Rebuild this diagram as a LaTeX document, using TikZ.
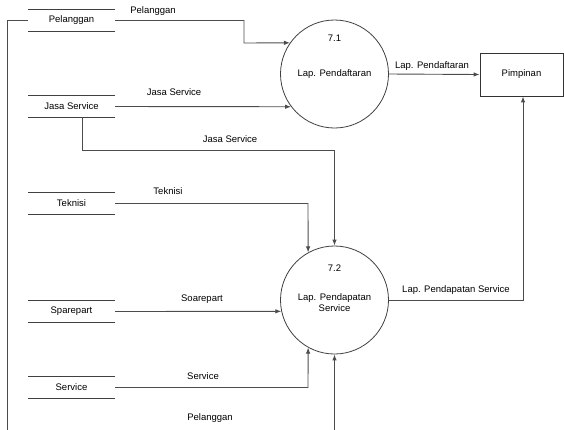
\documentclass[tikz,border=0pt]{standalone}
\usepackage{fontspec}
\setmainfont{Liberation Sans}
\usetikzlibrary{arrows.meta}
\begin{document}
\begin{tikzpicture}[x=1pt,y=-1pt,
  flow/.style={draw=black!70,line width=0.9pt,-{Latex[length=6pt,width=4.5pt]}},
  proc/.style={circle,draw=black!75,line width=0.8pt,minimum size=108pt,inner sep=0pt},
  lbl/.style={font=\fontsize{9.5}{11}\selectfont,inner sep=1pt},
  storeline/.style={draw=black!75,line width=0.9pt}]
\useasboundingbox (0,0) rectangle (564,429);
% processes
\node[proc] (p1) at (334.5,74) {};
\node[lbl] (p1n) at (334.5,38) {7.1};
\node[lbl] (p1t) at (334.5,74) {Lap. Pendaftaran};
\node[proc] (p2) at (334.5,300) {};
\node[lbl] (p2n) at (334.5,268) {7.2};
\node[lbl,align=center] (p2t) at (334.5,303) {Lap. Pendapatan\\Service};
% external entity
\node[draw=black!80,line width=0.8pt,minimum width=83pt,minimum height=43pt,inner sep=0pt,font=\fontsize{9.5}{11}\selectfont] (pim) at (521.5,74.5) {Pimpinan};
% data stores
\foreach \n/\t/\y in {s1/Pelanggan/20.5,s2/Jasa Service/106.5,s3/Teknisi/203.5,s4/Sparepart/311.5,s5/Service/387.5}{
  \node[lbl,minimum width=87pt,minimum height=21pt,inner sep=0pt] (\n) at (71.5,\y) {\t};
  \draw[storeline] (\n.north west) -- (\n.north east);
  \draw[storeline] (\n.south west) -- (\n.south east);
}
% bend coordinates
\coordinate (c1a) at (244,20.5);
\coordinate (c1b) at (244,43);
\coordinate (c2a) at (82,150);
\coordinate (c2b) at (334.5,150);
\coordinate (c3) at (308,203.5);
\coordinate (c5) at (308,387.5);
\coordinate (c6a) at (7,20.5);
\coordinate (c6b) at (7,434);
\coordinate (c6c) at (334.5,434);
\coordinate (c7) at (523,300);
% flows
\draw[flow] (s1.east) -- (c1a) -- (c1b) -- (p1.145);
\node[lbl] (l1) at (153,11) {Pelanggan};
\draw[flow] (s2.east) -- (p1.217);
\node[lbl] (l2) at (174,92) {Jasa Service};
\draw[flow] (p1.east) -- (pim.west);
\node[lbl] (l3) at (432,66) {Lap. Pendaftaran};
\draw[flow] (s2.south -| c2a) -- (c2a) -- (c2b) -- (p2.north);
\node[lbl] (l4) at (230,139) {Jasa Service};
\draw[flow] (s3.east) -- (c3) -- (p2.119);
\node[lbl] (l5) at (168,191) {Teknisi};
\draw[flow] (s4.east) -- (p2.192);
\node[lbl] (l6) at (202,299) {Soarepart};
\draw[flow] (s5.east) -- (c5) -- (p2.241);
\node[lbl] (l7) at (203,376) {Service};
\draw[flow] (s1.west) -- (c6a) -- (c6b) -- (c6c) -- (p2.south);
\node[lbl] (l8) at (210,418) {Pelanggan};
\draw[flow] (p2.east) -- (c7) -- (pim.south -| c7);
\node[lbl] (l9) at (456,290) {Lap. Pendapatan Service};
\end{tikzpicture}
\end{document}
